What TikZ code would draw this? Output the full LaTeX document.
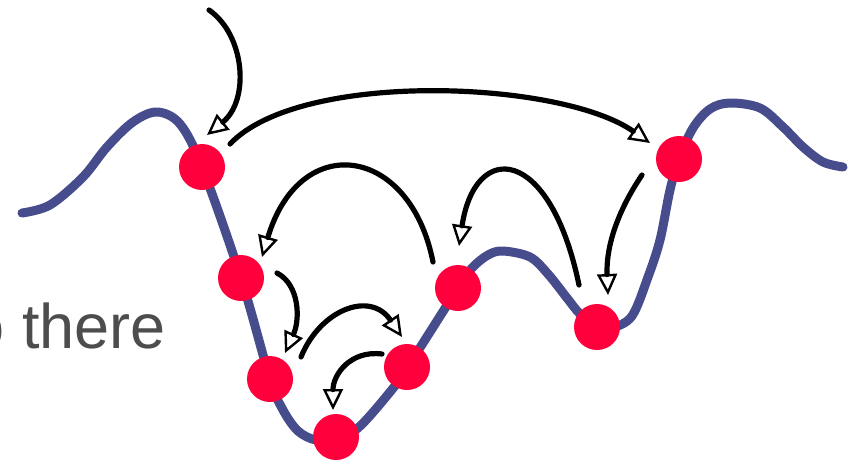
\documentclass[tikz,border=0pt]{standalone}
\usepackage{fontspec}
\setmainfont{Liberation Sans}
\usetikzlibrary{arrows.meta}
\definecolor{curveblue}{HTML}{474C8C}
\definecolor{dotred}{HTML}{FF003C}
\definecolor{txtgrey}{HTML}{4D4D4D}
\begin{document}
\begin{tikzpicture}[x=1pt,y=-1pt,
  curve/.style={curveblue, line width=9pt, line cap=round, line join=round},
  dot/.style={circle, fill=dotred, minimum size=46pt, inner sep=0pt},
  hop/.style={black, line width=5.2pt, line cap=round,
    -{Triangle[open, length=21pt, width=20pt, line width=2.4pt]}},
  lbl/.style={txtgrey, font=\fontsize{63}{75}\selectfont, inner sep=0pt, anchor=base east}]
\useasboundingbox (0,0) rectangle (848,461);
\begin{scope}
\clip (0,0) rectangle (848,461);
\node[lbl] (txt) at (166,348) {o there};
\end{scope}
\draw[curve] plot[smooth, tension=0.55] coordinates {
 (22,213) (50,205) (83,177) (107,147) (133,122) (157,112) (180,124) (202,167)
 (241,278) (270,379) (283,410) (298,431) (316,440) (336,438) (358,428) (390,392)
 (407,368) (458,288) (472,268) (488,255) (503,251) (530,257) (548,274) (567,298)
 (580,314) (597,328) (612,328) (632,316) (648,277) (660,240) (670,190) (679,159)
 (693,128) (710,109) (730,103) (760,108) (783,127) (803,147) (823,162) (843,167)};
\node[dot] (d1) at (202,167) {};
\node[dot] (d2) at (241,278) {};
\node[dot] (d3) at (270,379) {};
\node[dot] (d4) at (336,437) {};
\node[dot] (d5) at (407,367) {};
\node[dot] (d6) at (458,288) {};
\node[dot] (d7) at (597,327) {};
\node[dot] (d8) at (679,159) {};
\coordinate (a1s) at (209,10);  \coordinate (a1e) at (207,135);
\coordinate (a2s) at (230,144); \coordinate (a2e) at (650,143);
\coordinate (a3s) at (433,262); \coordinate (a3e) at (262,257);
\coordinate (a4s) at (579,285); \coordinate (a4e) at (459,246);
\coordinate (a5s) at (642,175); \coordinate (a5e) at (608,295);
\coordinate (a6s) at (277,273); \coordinate (a6e) at (285,353);
\coordinate (a7s) at (301,357); \coordinate (a7e) at (402,337);
\coordinate (a8s) at (382,354); \coordinate (a8e) at (333,410);
\draw[hop] (a1s) .. controls (245,35) and (250,100) .. (a1e);
\draw[hop] (a2s) .. controls (300,70) and (560,80) .. (a2e);
\draw[hop] (a3s) .. controls (410,145) and (300,130) .. (a3e);
\draw[hop] (a4s) .. controls (550,145) and (475,140) .. (a4e);
\draw[hop] (a5s) .. controls (615,215) and (606,250) .. (a5e);
\draw[hop] (a6s) .. controls (300,285) and (300,320) .. (a6e);
\draw[hop] (a7s) .. controls (320,310) and (370,290) .. (a7e);
\draw[hop] (a8s) .. controls (350,350) and (333,375) .. (a8e);
\end{tikzpicture}
\end{document}
